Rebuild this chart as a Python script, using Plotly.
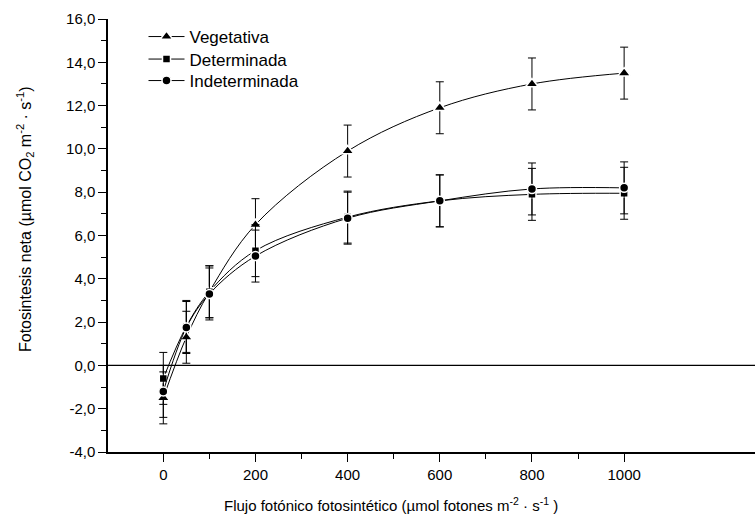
import plotly.graph_objects as go

x_vals = [0, 50, 100, 200, 400, 600, 800, 1000]

series_names = ["Vegetativa", "Determinada", "Indeterminada"]
veg = [-1.5, 1.3, 3.4, 6.5, 9.9, 11.9, 13.0, 13.5]
det = [-0.6, 1.8, 3.4, 5.3, 6.85, 7.6, 7.9, 7.95]
ind = [-1.2, 1.75, 3.3, 5.05, 6.8, 7.6, 8.15, 8.2]
veg_err = [1.2, 1.2, 1.2, 1.2, 1.2, 1.2, 1.2, 1.2]
det_err = [1.2, 1.2, 1.2, 1.2, 1.2, 1.2, 1.2, 1.2]
ind_err = [1.2, 1.2, 1.2, 1.2, 1.2, 1.2, 1.2, 1.2]

y_ticks = [-4, -2, 0, 2, 4, 6, 8, 10, 12, 14, 16]
y_ticktext = ["-4,0", "-2,0", "0,0", "2,0", "4,0", "6,0", "8,0",
              "10,0", "12,0", "14,0", "16,0"]
y_minor = [-3, -1, 1, 3, 5, 7, 9, 11, 13, 15]
x_ticks = [0, 200, 400, 600, 800, 1000]
x_ticktext = ["0", "200", "400", "600", "800", "1000"]
x_minor = [100, 300, 500, 700, 900]

FONT = "Liberation Sans, Arial, sans-serif"

# plot area in pixels (for converting layout positions to paper coords)
L, R, T, B, W, H = 108, 0, 19, 63, 755, 515
PW, PH = W - L - R, H - T - B


def px_x(px):
    return (px - L) / PW


def px_y(py):
    return (H - B - py) / PH


fig = go.Figure()

styles = [
    (veg, veg_err, "triangle-up", 11),
    (det, det_err, "square", 8),
    (ind, ind_err, "circle", 9),
]
legend_ids = ["legend", "legend2", "legend3"]
legend_rows = [37, 59.5, 81]

for name, (ys, errs, sym, sz), lg in zip(series_names, styles, legend_ids):
    fig.add_trace(go.Scatter(
        x=x_vals, y=ys, name=name, mode="lines+markers", legend=lg,
        line=dict(color="black", width=1, shape="spline", smoothing=1.0),
        marker=dict(symbol=sym, size=sz, color="black",
                    line=dict(color="white", width=1.5)),
        error_y=dict(type="data", array=errs, visible=True,
                     color="black", thickness=1, width=4),
    ))

# zero reference line
fig.add_hline(y=0, line=dict(color="black", width=1.2), layer="below")

legend_common = dict(
    xanchor="left", yanchor="middle", bgcolor="rgba(0,0,0,0)",
    font=dict(size=17, family=FONT), itemwidth=36,
)
legends = {}
for lg, row in zip(legend_ids, legend_rows):
    legends[lg] = dict(x=px_x(143.5), y=px_y(row), **legend_common)

fig.update_layout(
    width=W, height=H,
    margin=dict(l=L, r=R, t=T, b=B),
    paper_bgcolor="white", plot_bgcolor="white",
    font=dict(family=FONT, size=15, color="black"),
    showlegend=True,
    **legends,
    xaxis=dict(
        range=[-120, 1284], tickvals=x_ticks, ticktext=x_ticktext,
        showgrid=False, zeroline=False,
        showline=True, linecolor="black", linewidth=1.5,
        ticks="outside", ticklen=8, tickwidth=1.3, tickcolor="black",
        minor=dict(tickvals=x_minor, ticks="outside", ticklen=5,
                   tickwidth=1.3, tickcolor="black", showgrid=False),
        tickfont=dict(size=15),
    ),
    yaxis=dict(
        range=[-4, 16], tickvals=y_ticks, ticktext=y_ticktext,
        showgrid=False, zeroline=False,
        showline=True, linecolor="black", linewidth=1.5,
        ticks="outside", ticklen=8, tickwidth=1.3, tickcolor="black",
        minor=dict(tickvals=y_minor, ticks="outside", ticklen=5,
                   tickwidth=1.3, tickcolor="black", showgrid=False),
        tickfont=dict(size=15),
    ),
    annotations=[
        dict(
            text="Fotosintesis neta (µmol CO<sub>2</sub> m<sup>-2</sup> · s<sup>-1</sup>)",
            xref="paper", yref="paper",
            x=px_x(25), y=px_y(219),
            xanchor="center", yanchor="middle", textangle=-90,
            showarrow=False, font=dict(size=16, family=FONT),
        ),
        dict(
            text="Flujo fotónico fotosintético (µmol fotones m<sup>-2</sup> · s<sup>-1</sup> )",
            xref="paper", yref="paper",
            x=px_x(391), y=px_y(504),
            xanchor="center", yanchor="middle",
            showarrow=False, font=dict(size=15, family=FONT),
        ),
    ],
)

fig.write_html("out.html")
